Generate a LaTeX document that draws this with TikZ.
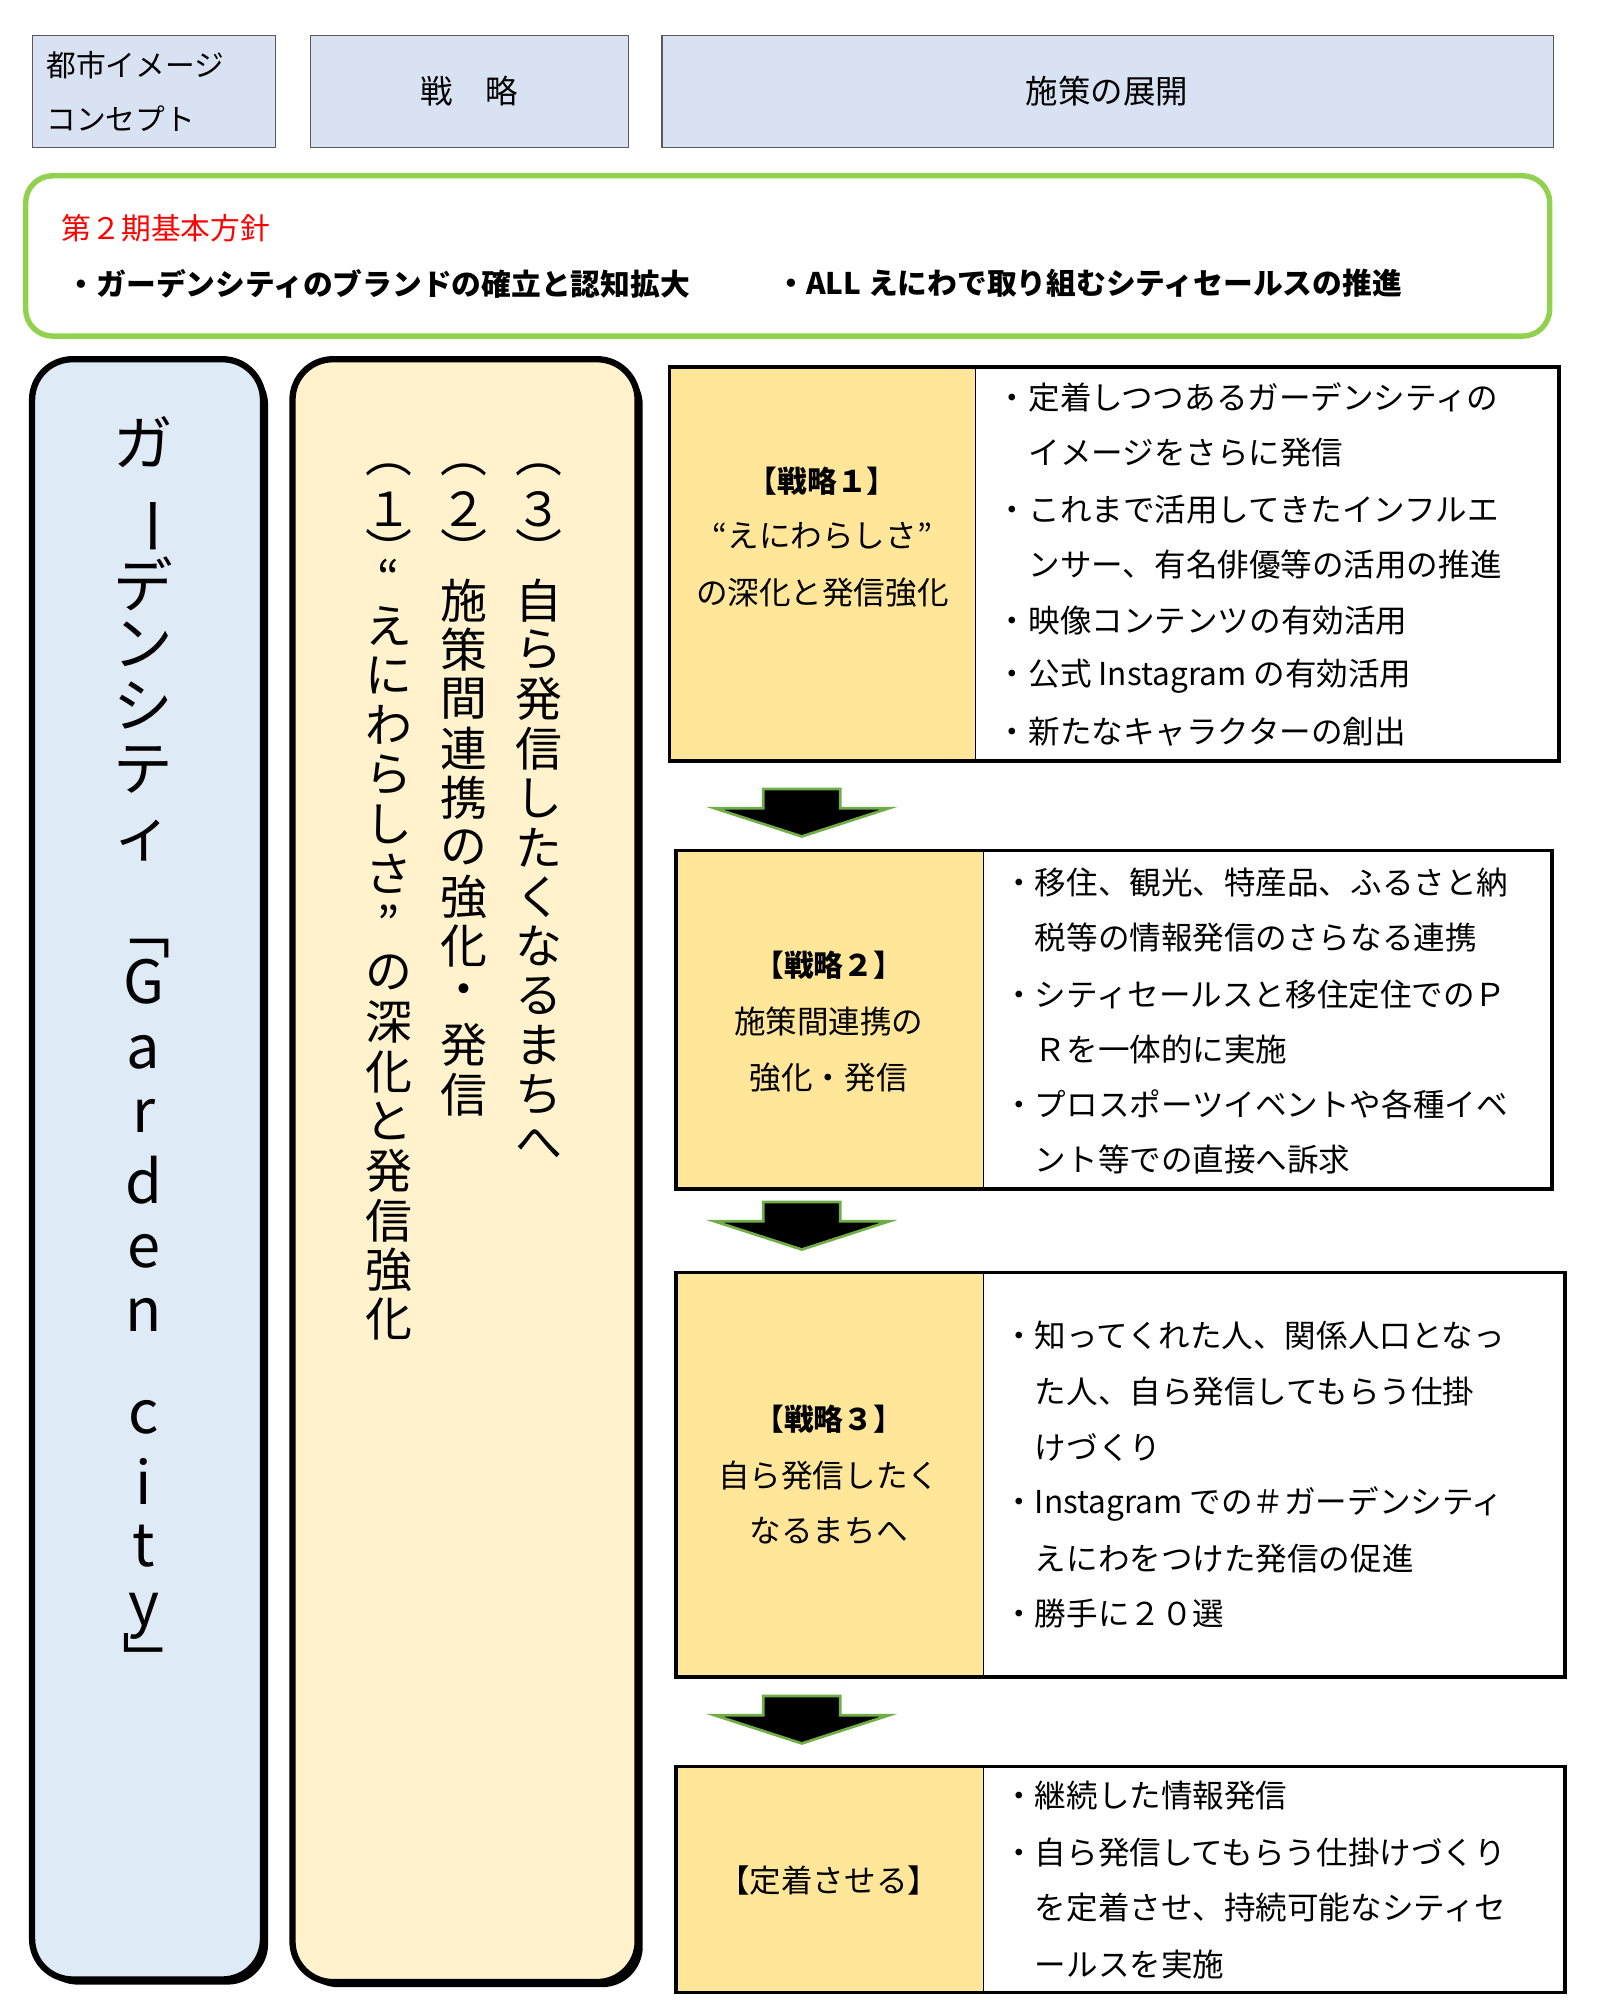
\documentclass[tikz,border=0pt]{standalone}
\usepackage{fontspec}
\usepackage{graphicx}
\setmainfont{Noto Sans CJK JP}
\usetikzlibrary{positioning,calc}
\tikzset{>=stealth}
\definecolor{headfill}{HTML}{D9E2F3}
\definecolor{leftfill}{HTML}{DEEAF6}
\definecolor{midfill}{HTML}{FFF2CC}
\definecolor{labfill}{HTML}{FFE699}
\definecolor{polgreen}{HTML}{92D050}
\definecolor{arrgreen}{HTML}{70AD47}
\tikzset{
  headbox/.style={draw=gray!70!black,fill=headfill,line width=1.2pt},
  colbox/.style={draw=black,line width=7pt,rounded corners=45pt},
  stratbox/.style={draw=black,line width=4pt},
  bodyline/.style={anchor=west,inner sep=0pt,font=\fontsize{35}{40}\selectfont},
  labline/.style={inner sep=0pt,font=\fontsize{35}{40}\selectfont},
  vchar/.style={inner sep=0pt,font=\fontsize{52}{52}\selectfont},
  bigchar/.style={inner sep=0pt,font=\fontsize{66}{66}\selectfont},
  downarrow/.style={fill=black,draw=arrgreen,line width=3pt,line join=miter}
}
\newcommand\rot[1]{\rotatebox{-90}{#1}}
\newcommand\ind{\hspace*{1em}}
\newcommand\downarr[1]{% top y of the arrow
  \draw[downarrow] (595,#1) -- (655,#1) -- (655,#1+15) -- (693,#1+15) -- (625,#1+37)
    -- (557,#1+15) -- (595,#1+15) -- cycle;}
\begin{document}
\begin{tikzpicture}[x=0.05cm,y=-0.05cm]
\useasboundingbox (0,0) rectangle (1250,1559);
% header
\draw[headbox] (25,28) rectangle (215,115);
\node[anchor=west,inner sep=0pt,font=\fontsize{33}{60}\selectfont,align=left] (concept) at (36,71) {都市イメージ\\コンセプト};
\draw[headbox] (242,28) rectangle (490,115);
\node[font=\fontsize{36}{40}\selectfont] (senryaku) at (366,71) {戦\quad 略};
\draw[headbox] (516,28) rectangle (1211,115);
\node[font=\fontsize{36}{40}\selectfont] (tenkai) at (863,71) {施策の展開};
% basic policy
\draw[polgreen,line width=6pt,rounded corners=30pt] (20,137) rectangle (1208,262);
\node[anchor=west,inner sep=0pt,text=red,font=\fontsize{33}{40}\selectfont] (policy) at (48,178) {第２期基本方針};
\node[anchor=west,inner sep=0pt,font=\bfseries\fontsize{33}{40}\selectfont] (pol1) at (52,221) {・ガーデンシティのブランドの確立と認知拡大};
\node[anchor=west,inner sep=0pt,font=\bfseries\fontsize{33}{40}\selectfont] (pol2) at (605,221) {・ALL えにわで取り組むシティセールスの推進};
% concept column
\fill[black,rounded corners=45pt] (29,284) rectangle (209,1547);
\draw[colbox,fill=leftfill] (25,280) rectangle (205,1543);
\foreach \ch/\y in {ガ/345,\rot{ー}/410,デ/455,ン/502,シ/550,テ/600,ィ/655,\rot{「}/725,G/765,a/820,r/870,d/920,e/975,n/1025,c/1105,i/1155,t/1205,y/1260,\rot{」}/1295}
  \node[bigchar] at (112,\y) {\ch};
% strategy column
\fill[black,rounded corners=45pt] (232,284) rectangle (501,1549);
\draw[colbox,fill=midfill] (228,280) rectangle (497,1545);
\foreach \x/\d in {420/３,362/２,303/１}{
  \node[vchar] at (\x,366) {︵};
  \node[vchar] at (\x,397) {\d};
  \node[vchar] at (\x,428) {︶};
}
\foreach \ch [count=\i from 0] in {自,ら,発,信,し,た,く,な,る,ま,ち,へ}
  \node[vchar] at (420,468+\i*38.5) {\ch};
\foreach \ch [count=\i from 0] in {施,策,間,連,携,の,強,化,・,発,信}
  \node[vchar] at (362,468+\i*38.5) {\ch};
\node[vchar] at (303,450) {“};
\foreach \ch [count=\i from 0] in {え,に,わ,ら,し,さ,”,の,深,化,と,発,信,強,化}
  \node[vchar] at (303,488+\i*38.6) {\ch};
% strategy 1
\fill[labfill] (522,286) rectangle (760,593);
\draw (760,286) -- (760,593);
\draw[stratbox] (522,286) rectangle (1215,593);
\node[labline,font=\bfseries\fontsize{33}{40}\selectfont] (s1a) at (641,375) {【戦略１】};
\node[labline] (s1b) at (641,418) {“えにわらしさ”};
\node[labline] (s1c) at (641,462) {の深化と発信強化};
\foreach \t/\y in {・定着しつつあるガーデンシティの/310,\ind イメージをさらに発信/353,・これまで活用してきたインフルエ/397,\ind ンサー、有名俳優等の活用の推進/440,・映像コンテンツの有効活用/484,・公式 Instagram の有効活用/527,・新たなキャラクターの創出/570}
  \node[bodyline] at (777,\y) {\t};
\downarr{615}
% strategy 2
\fill[labfill] (527,663) rectangle (766,927);
\draw (766,663) -- (766,927);
\draw[stratbox] (527,663) rectangle (1210,927);
\node[labline,font=\bfseries\fontsize{33}{40}\selectfont] (s2a) at (646,752) {【戦略２】};
\node[labline] (s2b) at (646,796) {施策間連携の};
\node[labline] (s2c) at (646,840) {強化・発信};
\foreach \t/\y in {・移住、観光、特産品、ふるさと納/688,\ind 税等の情報発信のさらなる連携/731,・シティセールスと移住定住でのＰ/775,\ind Ｒを一体的に実施/818,・プロスポーツイベントや各種イベ/861,\ind ント等での直接へ訴求/904}
  \node[bodyline] at (782,\y) {\t};
\downarr{937}
% strategy 3
\fill[labfill] (527,992) rectangle (766,1307);
\draw (766,992) -- (766,1307);
\draw[stratbox] (527,992) rectangle (1220,1307);
\node[labline,font=\bfseries\fontsize{33}{40}\selectfont] (s3a) at (646,1106) {【戦略３】};
\node[labline] (s3b) at (646,1150) {自ら発信したく};
\node[labline] (s3c) at (646,1193) {なるまちへ};
\foreach \t/\y in {・知ってくれた人、関係人口となっ/1041,\ind た人、自ら発信してもらう仕掛/1085,\ind けづくり/1128,・Instagram での＃ガーデンシティ/1172,\ind えにわをつけた発信の促進/1215,・勝手に２０選/1258}
  \node[bodyline] at (782,\y) {\t};
\downarr{1322}
% settle
\fill[labfill] (527,1377) rectangle (766,1553);
\draw (766,1377) -- (766,1553);
\draw[stratbox] (527,1377) rectangle (1220,1553);
\node[labline] (s4a) at (646,1466) {【定着させる】};
\foreach \t/\y in {・継続した情報発信/1400,・自ら発信してもらう仕掛けづくり/1444,\ind を定着させ、持続可能なシティセ/1487,\ind ールスを実施/1531}
  \node[bodyline] at (782,\y) {\t};
\draw[blue!60!cyan!70!black,line width=2pt] (742,1566) -- (1210,1566);
\end{tikzpicture}
\end{document}
